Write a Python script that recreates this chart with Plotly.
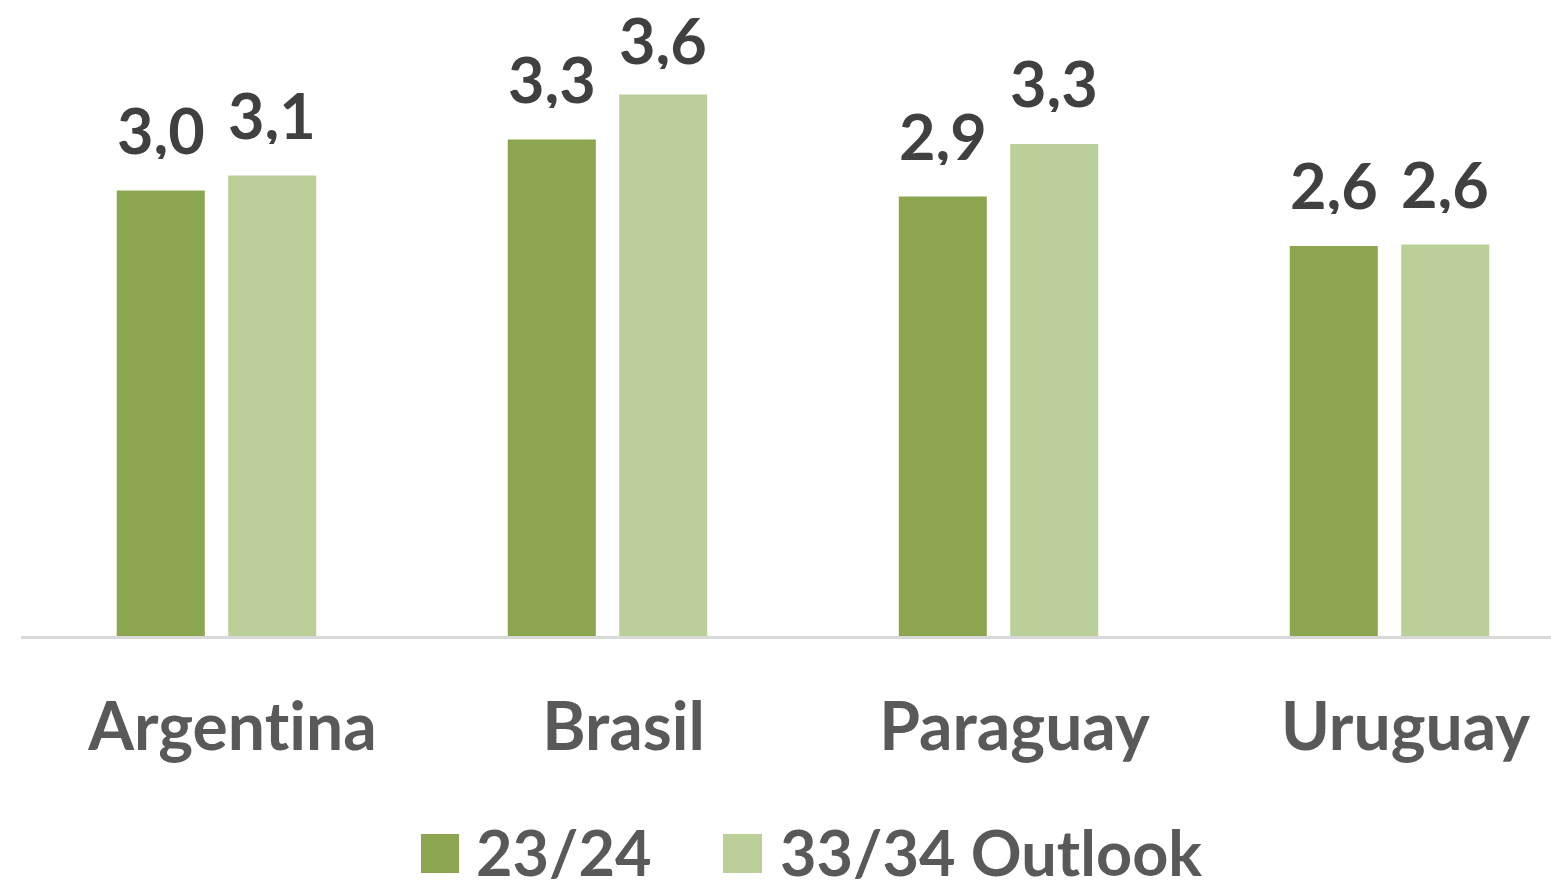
import plotly.graph_objects as go

categories = ["Argentina", "Brasil", "Paraguay", "Uruguay"]
series_names = ["23/24", "33/34 Outlook"]
values_2324 = [2.97, 3.31, 2.93, 2.60]
values_3334 = [3.07, 3.61, 3.28, 2.61]
colors = ["#8BA64F", "#BBCF99"]

W, H = 1551, 882
L, R, T, B = 21, 0, 0, 246
plot_w = W - L - R
plot_h = H - T - B
PX_PER_UNIT = 150
FONT = "Lato"
SIZE = 63

def fmt(v):
    return f"{v:.1f}".replace(".", ",")

def noliga(s):
    # avoid "ti" ligature in Lato
    return s.replace("ti", "t\u200ci")

fig = go.Figure()
all_vals = [values_2324, values_3334]
for name, vals, col in zip(series_names, all_vals, colors):
    fig.add_trace(go.Bar(x=categories, y=vals, name=name, marker=dict(color=col, line=dict(width=0)),
                         showlegend=False, hoverinfo="x+y"))

# bar geometry (category units)
bargap, bargroupgap = 0.43, 0.21
slot = (1 - bargap) / 2
unit_px = plot_w / (3.413 + 0.5)
annotations = []
LABEL_GAP = 62      # label centre above bar top (px)
LABEL_MIN_Y = 39    # keep label inside the chart area (px from top)
for i, vals in enumerate(all_vals):
    shift = (i - 0.5) * slot * unit_px
    for c, v in zip(categories, vals):
        bar_top_px = plot_h - v * PX_PER_UNIT
        ys = min(LABEL_GAP, bar_top_px - LABEL_MIN_Y)
        annotations.append(dict(x=c, y=v, text=f"<b>{fmt(v)}</b>", showarrow=False,
                                xref="x", yref="y", xshift=shift, yshift=ys, yanchor="middle",
                                height=60, valign="middle",
                                font=dict(family=FONT, size=SIZE, color="#404040")))

# custom legend
shapes = []
leg_sq = [(421, 459), (723, 762)]
leg_tx = [474, 778]
sq_top, sq_bot, tx_mid = 834, 873, 851
def px_x(p):
    return (p - L) / plot_w
def px_y(p):
    return (H - B - p) / plot_h
for (x0, x1), tx, name, col in zip(leg_sq, leg_tx, series_names, colors):
    shapes.append(dict(type="rect", xref="paper", yref="paper", x0=px_x(x0), x1=px_x(x1),
                       y0=px_y(sq_bot), y1=px_y(sq_top), fillcolor=col, line=dict(width=0)))
    annotations.append(dict(x=px_x(tx), y=px_y(tx_mid), xref="paper", yref="paper", text=f"<b>{name}</b>",
                            showarrow=False, xanchor="left", yanchor="middle", height=56, valign="middle",
                            font=dict(family=FONT, size=SIZE, color="#595959")))

fig.update_layout(
    width=W, height=H, margin=dict(l=L, r=R, t=T, b=B, pad=0),
    paper_bgcolor="white", plot_bgcolor="white",
    barmode="group", bargap=bargap, bargroupgap=bargroupgap,
    annotations=annotations, shapes=shapes,
    xaxis=dict(type="category", range=[-0.5, 3.413], showgrid=False, zeroline=False,
               showline=True, linecolor="#D9D9D9", linewidth=3, ticks="",
               tickfont=dict(family=FONT, size=66, color="#595959"),
               tickvals=categories, ticktext=[f"<b>{noliga(c)}</b>" for c in categories],
               ticklabelshift=16, ticklabelstandoff=32),
    yaxis=dict(range=[0, plot_h / PX_PER_UNIT], visible=False, showgrid=False, zeroline=False),
)
fig.write_html("out.html", config={"displayModeBar": False},
               post_script="document.body.style.margin='0';document.body.style.overflow='hidden';")
